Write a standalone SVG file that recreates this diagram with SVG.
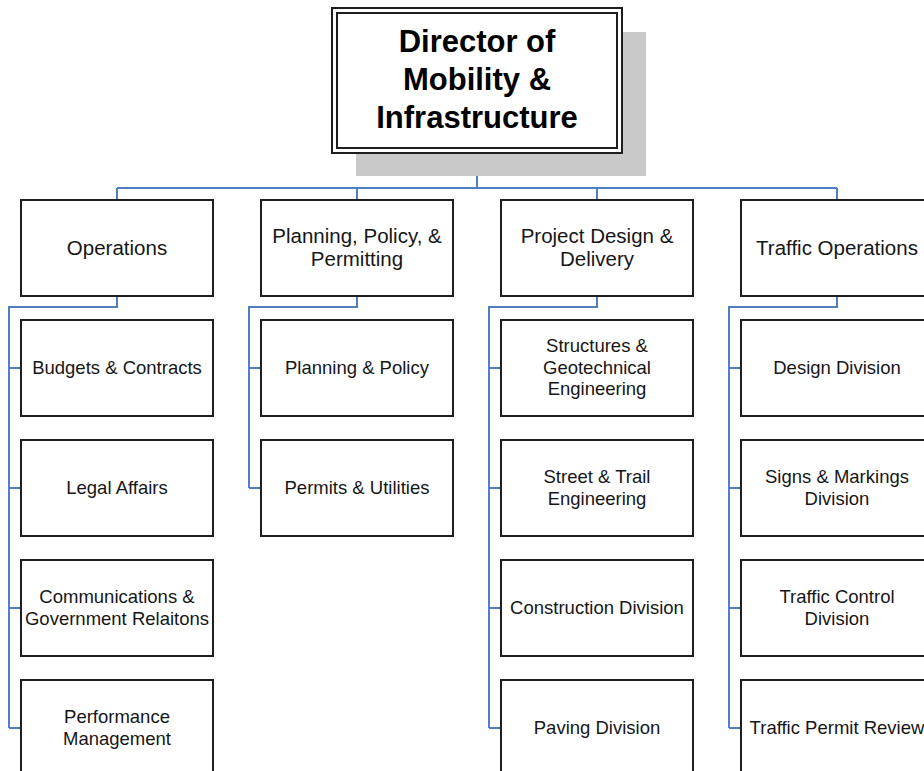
<svg xmlns="http://www.w3.org/2000/svg" width="924" height="771" viewBox="0 0 924 771">
<style>
.box{fill:#fff;stroke:#1e1e1e;stroke-width:2}
.conn{fill:none;stroke:#4f7fbf;stroke-width:2}
.t1{font-family:"Liberation Sans",Arial,sans-serif;font-size:20.5px;fill:#161616;text-anchor:middle}
.t2{font-family:"Liberation Sans",Arial,sans-serif;font-size:18.5px;fill:#161616;text-anchor:middle}
.tt{font-family:"Liberation Sans",Arial,sans-serif;font-size:31px;font-weight:bold;fill:#000;text-anchor:middle}
</style>
<rect width="924" height="771" fill="#fff"/>
<g id="connectors">
<path class="conn" d="M477 153V188M117 188H837M117 188V200M357 188V200M597 188V200M837 188V200"/>
<path class="conn" d="M117 296V307H9V728M9 368H21M9 488H21M9 608H21M9 728H21"/>
<path class="conn" d="M357 296V307H249V488M249 368H261M249 488H261"/>
<path class="conn" d="M597 296V307H489V728M489 368H501M489 488H501M489 608H501M489 728H501"/>
<path class="conn" d="M837 296V307H729V728M729 368H741M729 488H741M729 608H741M729 728H741"/>
</g>
<g id="director">
<rect x="356" y="32" width="290" height="144" fill="#c9c9c9"/>
<rect class="box" x="332" y="8" width="290" height="145"/>
<rect x="337" y="13" width="280" height="135" fill="none" stroke="#1e1e1e" stroke-width="2"/>
<text class="tt" x="477" y="52">Director of</text>
<text class="tt" x="477" y="90">Mobility &amp;</text>
<text class="tt" x="477" y="128">Infrastructure</text>
</g>
<g id="operations">
<rect class="box" x="21" y="200" width="192" height="96"/>
<text class="t1" x="117" y="255">Operations</text>
</g>
<g id="planning">
<rect class="box" x="261" y="200" width="192" height="96"/>
<text class="t1" x="357" y="243">Planning, Policy, &amp;</text>
<text class="t1" x="357" y="266">Permitting</text>
</g>
<g id="project">
<rect class="box" x="501" y="200" width="192" height="96"/>
<text class="t1" x="597" y="243">Project Design &amp;</text>
<text class="t1" x="597" y="266">Delivery</text>
</g>
<g id="traffic">
<rect class="box" x="741" y="200" width="192" height="96"/>
<text class="t1" x="837" y="255">Traffic Operations</text>
</g>
<g id="budgets">
<rect class="box" x="21" y="320" width="192" height="96"/>
<text class="t2" x="117" y="374">Budgets &amp; Contracts</text>
</g>
<g id="legal">
<rect class="box" x="21" y="440" width="192" height="96"/>
<text class="t2" x="117" y="494">Legal Affairs</text>
</g>
<g id="communications">
<rect class="box" x="21" y="560" width="192" height="96"/>
<text class="t2" x="117" y="603">Communications &amp;</text>
<text class="t2" x="117" y="624.5">Government Relaitons</text>
</g>
<g id="performance">
<rect class="box" x="21" y="680" width="192" height="96"/>
<text class="t2" x="117" y="723">Performance</text>
<text class="t2" x="117" y="744.5">Management</text>
</g>
<g id="planning-policy">
<rect class="box" x="261" y="320" width="192" height="96"/>
<text class="t2" x="357" y="374">Planning &amp; Policy</text>
</g>
<g id="permits">
<rect class="box" x="261" y="440" width="192" height="96"/>
<text class="t2" x="357" y="494">Permits &amp; Utilities</text>
</g>
<g id="structures">
<rect class="box" x="501" y="320" width="192" height="96"/>
<text class="t2" x="597" y="352">Structures &amp;</text>
<text class="t2" x="597" y="373.5">Geotechnical</text>
<text class="t2" x="597" y="395">Engineering</text>
</g>
<g id="street">
<rect class="box" x="501" y="440" width="192" height="96"/>
<text class="t2" x="597" y="483">Street &amp; Trail</text>
<text class="t2" x="597" y="504.5">Engineering</text>
</g>
<g id="construction">
<rect class="box" x="501" y="560" width="192" height="96"/>
<text class="t2" x="597" y="614">Construction Division</text>
</g>
<g id="paving">
<rect class="box" x="501" y="680" width="192" height="96"/>
<text class="t2" x="597" y="734">Paving Division</text>
</g>
<g id="design-division">
<rect class="box" x="741" y="320" width="192" height="96"/>
<text class="t2" x="837" y="374">Design Division</text>
</g>
<g id="signs">
<rect class="box" x="741" y="440" width="192" height="96"/>
<text class="t2" x="837" y="483">Signs &amp; Markings</text>
<text class="t2" x="837" y="504.5">Division</text>
</g>
<g id="traffic-control">
<rect class="box" x="741" y="560" width="192" height="96"/>
<text class="t2" x="837" y="603">Traffic Control</text>
<text class="t2" x="837" y="624.5">Division</text>
</g>
<g id="permit-review">
<rect class="box" x="741" y="680" width="192" height="96"/>
<text class="t2" x="837" y="734">Traffic Permit Review</text>
</g>
</svg>
